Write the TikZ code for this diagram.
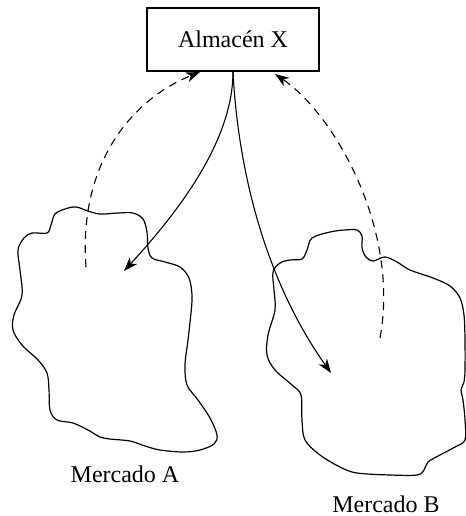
\documentclass[tikz,border=0pt]{standalone}
\usepackage{fontspec}
\setmainfont{Liberation Serif}
\usetikzlibrary{arrows.meta}
\begin{document}
\begin{tikzpicture}[x=0.5pt,y=-0.5pt,
  lbl/.style={font=\fontsize{12}{14}\selectfont, inner sep=0pt},
  boxnode/.style={draw, line width=0.55pt, minimum width=86pt, minimum height=31.5pt, font=\fontsize{12}{14}\selectfont},
  blob/.style={line width=0.6pt, smooth cycle, tension=0.55},
  flow/.style={line width=0.55pt, -{Stealth[length=7pt,width=5pt,inset=2pt]}},
  back/.style={flow, dash pattern=on 4pt off 3pt}]
\useasboundingbox (0,0) rectangle (466,516);
\node[boxnode] (X) at (233,39.5) {Almacén X};
\node[lbl] (A) at (125,474) {Mercado A};
\node[lbl] (B) at (386,504) {Mercado B};
% blobs
\draw[blob] plot coordinates {(76,207) (88,211) (100,214) (118,213) (133,213) (143,219) (147,232) (148,248) (152,258) (165,262) (180,267) (189,278) (192,295) (191,313) (188,340) (185,365) (187,385) (198,400) (210,418) (217,435) (214,444) (200,450) (183,452) (160,450) (145,446) (130,441) (110,439) (100,437) (88,430) (73,423) (57,420) (50,410) (49,390) (47,373) (38,360) (22,345) (13,330) (14,315) (22,295) (20,270) (18,250) (24,238) (32,233) (47,233) (51,225) (55,214) (65,209)};
\draw[blob] plot coordinates {(357,230) (362,236) (362,248) (366,257) (373,261) (385,257) (397,262) (410,270) (433,278) (450,286) (460,298) (464,315) (465,340) (465,370) (464,382) (461,390) (463,400) (465,420) (465,440) (455,447) (440,455) (428,462) (424,470) (417,475) (390,475) (357,473) (340,467) (320,455) (305,440) (302,420) (301,395) (292,385) (275,370) (267,355) (268,335) (275,310) (274,290) (273,272) (280,263) (290,260) (302,259) (307,250) (312,238) (330,232) (345,230)};
% end points inside markets
\coordinate (a1) at (124,271);
\coordinate (b1) at (331,373);
\coordinate (a0) at (86,267);
\coordinate (b0) at (380,338);
\coordinate (xl) at (200,72);
\coordinate (xr) at (275,74);
% flows
\draw[flow] (X.south) .. controls (233,140) and (180,210) .. (a1);
\draw[flow] (X.south) .. controls (238,170) and (265,280) .. (b1);
\draw[back] (a0) .. controls (78,160) and (135,98) .. (xl);
\draw[back] (b0) .. controls (400,230) and (335,115) .. (xr);
\end{tikzpicture}
\end{document}
